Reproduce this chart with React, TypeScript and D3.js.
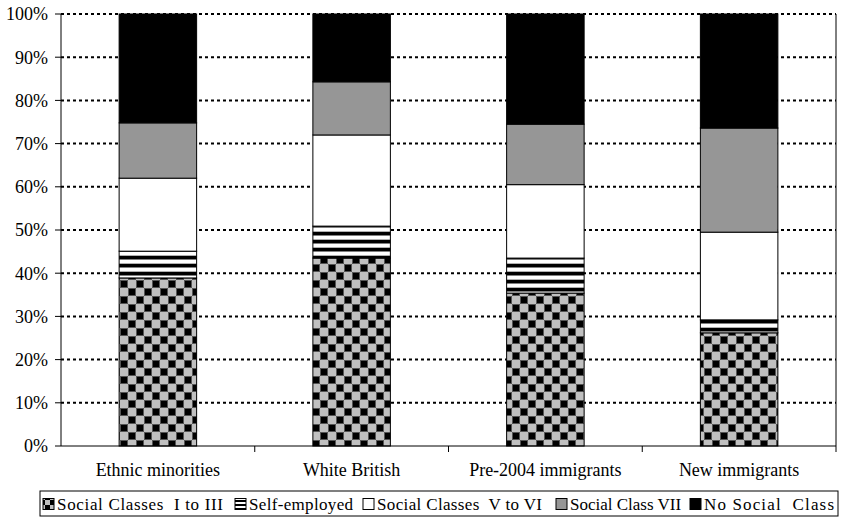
import React from 'react'
import * as d3 from 'd3'

const categories = [
  'Ethnic minorities',
  'White British',
  'Pre-2004 immigrants',
  'New immigrants',
]
const seriesNames = [
  'Social Classes  I to III',
  'Self-employed',
  'Social Classes  V to VI',
  'Social Class VII',
  'No Social  Class',
]
const classesItoIII = [38.9, 43.5, 35.4, 26.2]
const selfEmployed = [6.2, 7.4, 8.1, 3.0]
const classesVtoVI = [16.9, 21.1, 17.0, 20.3]
const classVII = [12.8, 12.3, 14.0, 24.1]
const noClass = [25.2, 15.7, 25.5, 26.4]
const yTicks = [0, 10, 20, 30, 40, 50, 60, 70, 80, 90, 100]

const fills = ['url(#checker)', 'url(#stripes)', '#ffffff', '#969696', '#000000']
const legendFills = ['url(#checkerSmall)', 'url(#stripesSmall)', '#ffffff', '#969696', '#000000']

const width = 844
const height = 522
const margin = { top: 14, right: 8, bottom: 76, left: 61 }
const font = '"Liberation Serif", "DejaVu Serif", serif'
const fontSize = 18
const legendFontSize = 17

const App: React.FC = () => {
  const keys = seriesNames
  const rows = categories.map((c, i) => {
    const r: Record<string, any> = { cat: c }
    r[keys[0]] = classesItoIII[i]
    r[keys[1]] = selfEmployed[i]
    r[keys[2]] = classesVtoVI[i]
    r[keys[3]] = classVII[i]
    r[keys[4]] = noClass[i]
    return r
  })
  const stacked = d3.stack<Record<string, any>>().keys(keys)(rows)

  const x = d3
    .scaleBand()
    .domain(categories)
    .range([margin.left, width - margin.right])
    .paddingInner(0.6)
    .paddingOuter(0.3)
  const y = d3
    .scaleLinear()
    .domain([0, 100])
    .range([height - margin.bottom, margin.top])

  const x0 = margin.left
  const x1 = width - margin.right
  const yBase = y(0)
  const step = x.step()

  // legend layout (matched to the original's spacing)
  const legendY = 491
  const legendH = 25
  const legendItemsX = [43, 235, 363, 556, 690]
  const legendTextW: (number | undefined)[] = [166, 104, 165, undefined, 130]

  return (
    <svg
      width={width}
      height={height}
      style={{ position: 'absolute', left: 0, top: 0, background: '#fff' }}
    >
      <defs>
        <pattern id="checker" patternUnits="userSpaceOnUse" width={16} height={16}>
          <rect width={16} height={16} fill="#c0c0c0" />
          <rect x={0.5} y={0.5} width={7} height={7} fill="#000" stroke="#555" />
          <rect x={8.5} y={8.5} width={7} height={7} fill="#000" stroke="#555" />
        </pattern>
        <pattern id="stripes" patternUnits="userSpaceOnUse" width={8} height={8}>
          <rect width={8} height={8} fill="#fff" />
          <rect y={0} width={8} height={3} fill="#000" />
          <rect y={3} width={8} height={1} fill="#808080" />
          <rect y={7} width={8} height={1} fill="#b0b0b0" />
        </pattern>
        <pattern id="checkerSmall" patternUnits="userSpaceOnUse" width={10} height={10}>
          <rect width={10} height={10} fill="#c0c0c0" />
          <rect x={0} y={0} width={5} height={5} fill="#000" />
          <rect x={5} y={5} width={5} height={5} fill="#000" />
        </pattern>
        <pattern id="stripesSmall" patternUnits="userSpaceOnUse" width={4} height={4}>
          <rect width={4} height={4} fill="#fff" />
          <rect width={4} height={2} fill="#000" />
        </pattern>
      </defs>

      {/* gridlines */}
      {yTicks
        .filter((t) => t > 0)
        .map((t) => (
          <line
            key={t}
            x1={x0}
            x2={x1}
            y1={y(t)}
            y2={y(t)}
            stroke="#000"
            strokeWidth={2}
            strokeDasharray="3,3"
          />
        ))}

      {/* bars */}
      {stacked.map((layer, li) => (
        <g key={layer.key}>
          {layer.map((d) => (
            <rect
              key={d.data.cat}
              x={x(d.data.cat)!}
              y={y(d[1])}
              width={x.bandwidth()}
              height={y(d[0]) - y(d[1])}
              fill={fills[li]}
              stroke="#000"
              strokeWidth={1}
            />
          ))}
        </g>
      ))}

      {/* axes */}
      <line x1={x0} x2={x0} y1={y(100)} y2={yBase} stroke="#000" />
      <line x1={x1} x2={x1} y1={y(100)} y2={yBase} stroke="#000" />
      <line x1={x0} x2={x1} y1={yBase} y2={yBase} stroke="#000" />
      {yTicks.map((t) => (
        <g key={t}>
          <line x1={x0 - 6} x2={x0} y1={y(t)} y2={y(t)} stroke="#000" />
          <text
            x={x0 - 13}
            y={y(t)}
            dy="0.35em"
            textAnchor="end"
            fontFamily={font}
            fontSize={fontSize}
            fill="#000"
          >
            {t}%
          </text>
        </g>
      ))}
      {categories.map((c, i) => (
        <g key={c}>
          <line
            x1={x0 + step * (i + 1)}
            x2={x0 + step * (i + 1)}
            y1={yBase}
            y2={yBase + 6}
            stroke="#000"
          />
          <text
            x={x(c)! + x.bandwidth() / 2}
            y={yBase + 30}
            textAnchor="middle"
            fontFamily={font}
            fontSize={fontSize}
            fill="#000"
          >
            {c}
          </text>
        </g>
      ))}

      {/* legend */}
      <rect
        x={40}
        y={legendY}
        width={798}
        height={legendH}
        fill="#fff"
        stroke="#000"
      />
      {seriesNames.map((s, i) => (
        <g key={s}>
          <rect
            x={legendItemsX[i]}
            y={legendY + 7.5}
            width={11}
            height={11}
            fill={legendFills[i]}
            stroke="#000"
          />
          <text
            x={legendItemsX[i] + 14}
            y={legendY + 18.5}
            fontFamily={font}
            fontSize={legendFontSize}
            fill="#000"
            textLength={legendTextW[i]}
            lengthAdjust={legendTextW[i] ? 'spacing' : undefined}
            style={{ whiteSpace: 'pre' }}
          >
            {s}
          </text>
        </g>
      ))}
    </svg>
  )
}

export default App
